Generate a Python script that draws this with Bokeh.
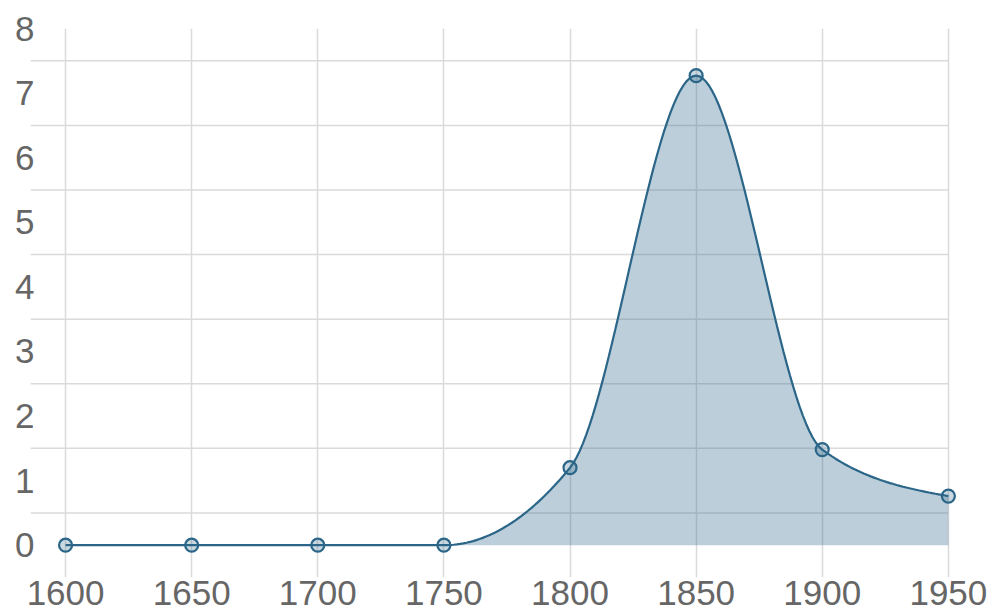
import numpy as np
from bokeh.plotting import figure
from bokeh.models import Range1d, FixedTicker
from bokeh.embed import file_html
from bokeh.resources import INLINE

# ---- data ----
years = [1600, 1650, 1700, 1750, 1800, 1850, 1900, 1950]
values = [0, 0, 0, 0, 1.2, 7.27, 1.48, 0.76]
y_ticks = [0, 1, 2, 3, 4, 5, 6, 7, 8]
x_ticks = [1600, 1650, 1700, 1750, 1800, 1850, 1900, 1950]

LINE = "#2b6689"
GRID = "#dadada"
LABEL = "#666666"
FONT = "Liberation Sans"


def monotone_x(xs, ys, n=40):
    """d3.curveMonotoneX-style smooth path through the data points."""
    xs = np.asarray(xs, float)
    ys = np.asarray(ys, float)
    k = len(xs)
    h = np.diff(xs)
    s = np.diff(ys) / h
    t = np.zeros(k)
    for i in range(1, k - 1):
        p = (s[i - 1] * h[i] + s[i] * h[i - 1]) / (h[i - 1] + h[i])
        t[i] = (np.sign(s[i - 1]) + np.sign(s[i])) * min(abs(s[i - 1]), abs(s[i]), 0.5 * abs(p))
    t[0] = (3 * s[0] - t[1]) / 2
    t[-1] = (3 * s[-1] - t[-2]) / 2
    px, py = [], []
    u = np.linspace(0, 1, n)
    for i in range(k - 1):
        dx = h[i] / 3
        P0 = (xs[i], ys[i])
        P1 = (xs[i] + dx, ys[i] + dx * t[i])
        P2 = (xs[i + 1] - dx, ys[i + 1] - dx * t[i + 1])
        P3 = (xs[i + 1], ys[i + 1])
        b0 = (1 - u) ** 3
        b1 = 3 * u * (1 - u) ** 2
        b2 = 3 * u ** 2 * (1 - u)
        b3 = u ** 3
        bx = b0 * P0[0] + b1 * P1[0] + b2 * P2[0] + b3 * P3[0]
        by = b0 * P0[1] + b1 * P1[1] + b2 * P2[1] + b3 * P3[1]
        if i > 0:
            bx, by = bx[1:], by[1:]
        px.extend(bx)
        py.extend(by)
    return np.array(px), np.array(py)


x_start, x_end = 1586.1, 1956.0
p = figure(width=994, height=613, output_backend="svg", toolbar_location=None,
           x_range=Range1d(x_start, x_end), y_range=Range1d(-0.5, 8),
           min_border_left=30, min_border_right=31, min_border_top=28, min_border_bottom=36)
p.outline_line_color = None
p.background_fill_color = "white"
p.border_fill_color = "white"

# grid: vertical lines at every year tick, horizontal lines halfway between value ticks
p.xgrid.ticker = FixedTicker(ticks=x_ticks)
p.xgrid.grid_line_color = GRID
p.xgrid.grid_line_width = 1.5
p.ygrid.grid_line_color = None
half = [v + 0.5 for v in y_ticks[:-1]]
p.segment(x0=[x_start] * len(half), x1=[years[-1]] * len(half), y0=half, y1=half,
          line_color=GRID, line_width=1.5)

cx, cy = monotone_x(years, values)
p.varea(x=cx, y1=np.zeros_like(cy), y2=cy, fill_color=LINE, fill_alpha=0.32)
p.line(cx, cy, line_color=LINE, line_width=2.2)
p.scatter(years, values, size=13, marker="circle", line_color=LINE, line_width=2.2,
          fill_color=LINE, fill_alpha=0.25)

for ax in (p.xaxis[0], p.yaxis[0]):
    ax.axis_line_color = None
    ax.major_tick_line_color = None
    ax.minor_tick_line_color = None
    ax.major_tick_out = 0
    ax.major_tick_in = 0
    ax.major_label_text_font = FONT
    ax.major_label_text_font_size = "35px"
    ax.major_label_text_color = LABEL

p.xaxis.ticker = FixedTicker(ticks=x_ticks)
p.yaxis.ticker = FixedTicker(ticks=y_ticks)
p.xaxis.major_label_standoff = 3
p.yaxis.major_label_standoff = -4

open("out.html", "w").write(file_html(p, INLINE))
